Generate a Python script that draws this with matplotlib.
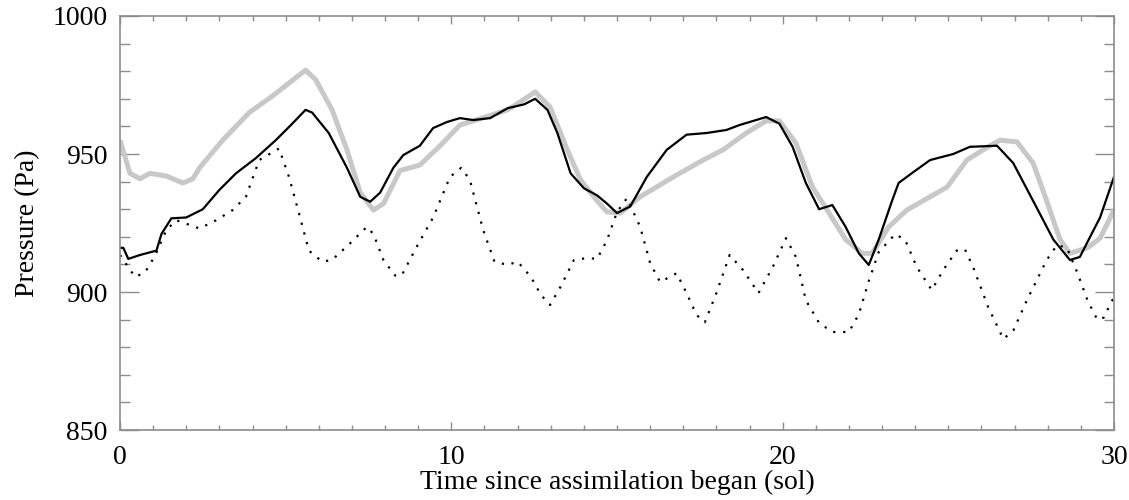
"""
Pression de surface au cours de l'assimilation : référence (gris),
run assimilé (noir) et run libre (pointillés).
"""
import matplotlib
matplotlib.use("Agg")
import matplotlib.pyplot as plt
from matplotlib.ticker import MultipleLocator

# Référence (courbe grise épaisse)
ref_t = [0, 0.3, 0.6, 0.9, 1.4, 1.9, 2.2, 2.4, 3.1, 3.9, 4.6, 5.1, 5.6, 5.9, 6.4,
         6.85, 7.25, 7.65, 7.95, 8.45, 9.05, 9.66, 10.26, 10.66, 11.7, 12.17, 12.53,
         12.98, 13.5, 13.9, 14.4, 14.7, 15.1, 15.7, 16.7, 17.6, 18.2, 18.9, 19.5, 19.9,
         20.4, 20.9, 21.4, 21.9, 22.4, 22.7, 23.2, 23.75, 24.45, 24.96, 25.56, 26.2,
         26.56, 27.07, 27.56, 27.97, 28.37, 28.67, 29.2, 29.58, 30]
ref_p = [955, 943, 941, 943, 942, 939.5, 941, 945, 955, 965, 971, 975.7, 980.4, 977, 966,
         951.5, 936, 929.7, 932, 944, 946, 953, 960.5, 962, 966, 969.6, 972.5,
         967, 951.5, 940.6, 933, 929, 928.6, 934.5, 941.7, 947.8, 951.5, 957.6, 962, 962,
         954, 938, 928.6, 919, 914, 914, 923.6, 929.7, 934.5, 938, 947.8, 952.6,
         955, 954.4, 946.7, 933, 919, 914, 916, 919.5, 929.7]

# Run avec assimilation (trait noir)
assim_t = [0, 0.1, 0.25, 0.6, 1.1, 1.25, 1.55, 2.0, 2.5, 3.0, 3.5, 4.1, 4.7, 5.2, 5.6,
           5.8, 6.3, 6.85, 7.25, 7.55, 7.85, 8.25, 8.55, 9.05, 9.45, 9.87, 10.26, 10.66,
           11.17, 11.7, 12.2, 12.53, 12.9, 13.2, 13.6, 14.0, 14.4, 14.7, 15.0, 15.4, 15.9,
           16.5, 17.1, 17.7, 18.3, 18.7, 19.5, 19.9, 20.3, 20.7, 21.1, 21.5, 21.9, 22.3,
           22.6, 22.9, 23.3, 23.5, 23.95, 24.45, 25.15, 25.65, 26.47, 26.96, 27.56, 28.17,
           28.67, 28.97, 29.28, 29.58, 30]
assim_p = [916, 916, 912, 913.4, 915, 921, 926.7, 927, 930, 937, 943, 948.5, 955, 961, 966,
           965, 957.6, 945, 934.5, 932.7, 936, 945, 949.6, 953, 959.4, 961.6, 963, 962.3,
           963, 966.6, 968, 970, 966, 957.6, 943, 937.6, 935, 932, 928.6, 931, 941.7,
           951.5, 957, 957.6, 958.7, 960.5, 963.4, 961, 952.6, 939.5, 930, 931.5, 923.6, 914,
           909.8, 919, 933, 939.5, 943.5, 947.8, 950, 952.6, 953, 946.7, 933, 919,
           911.6, 912.7, 920, 927, 941.7]

# Run libre (pointillés)
free_t = [0, 0.45, 0.75, 1.05, 1.4, 1.7, 2.1, 2.4, 2.9, 3.4, 3.8, 4.2, 4.8, 5.1, 5.4, 5.7,
          6.1, 6.4, 6.95, 7.45, 7.65, 7.95, 8.3, 8.5, 8.95, 9.45, 9.96, 10.3, 10.56, 10.96,
          11.3, 11.7, 12.0, 12.4, 12.7, 12.98, 13.3, 13.7, 14.1, 14.4, 14.7, 15.0, 15.3,
          15.7, 16.0, 16.3, 16.8, 17.1, 17.4, 17.65, 18.0, 18.4, 18.8, 19.27, 19.7, 20.1,
          20.4, 20.7, 21.1, 21.5, 22.0, 22.3, 22.6, 22.9, 23.4, 23.7, 24.05, 24.5, 24.85,
          25.25, 25.5, 25.75, 26.2, 26.66, 26.96, 27.37, 27.97, 28.28, 28.58, 28.9, 29.2,
          29.5, 29.7, 29.9, 30]
free_p = [913.4, 905.5, 907, 913, 922.5, 926, 924.3, 923, 926, 929.7, 934.5, 947.8, 952,
          941.7, 928.6, 915, 911, 911.6, 917.7, 923.6, 921, 911.6, 906, 906, 916.3, 927,
          941.7, 945, 940.6, 922.5, 911, 909.8, 911, 905.5, 899, 895.3, 902, 911.6, 912.3,
          912, 918.8, 929, 934, 923.6, 910.5, 903.6, 906.8, 899.6, 891.7, 889, 899.6, 913.4,
          908, 899.6, 909, 919.5, 912.7, 897, 888.8, 885.5, 885.5, 892, 904, 914.5, 921,
          918.8, 909, 900.7, 908, 915, 915.5, 909, 894.6, 883, 886, 897, 911.6, 917, 916,
          906.8, 897, 889.9, 890.8, 896, 898]

plt.rcParams["font.family"] = ["Liberation Serif", "DejaVu Serif"]
plt.rcParams["font.size"] = 20

fig = plt.figure(figsize=(11.29, 5.0), dpi=100)
ax = fig.add_axes([0.1063, 0.14, 0.8804, 0.828])

ax.plot(ref_t, ref_p, color="#c8c8c8", lw=3.6, solid_capstyle="butt")
ax.plot(assim_t, assim_p, color="black", lw=1.6)
ax.plot(free_t, free_p, color="black", lw=1.6, linestyle=(0, (1, 3.5)),
        dash_capstyle="butt")

ax.set_xlim(0, 30)
ax.set_ylim(850, 1000)
ax.xaxis.set_major_locator(MultipleLocator(10))
ax.xaxis.set_minor_locator(MultipleLocator(1))
ax.yaxis.set_major_locator(MultipleLocator(50))
ax.yaxis.set_minor_locator(MultipleLocator(10))

axis_grey = "#8c8c8c"
for s in ax.spines.values():
    s.set_color(axis_grey)
    s.set_linewidth(1.2)

# Ticks style IDL : vers l'intérieur, sur les 4 côtés
ax.tick_params(axis="both", which="both", direction="in", top=True, right=True,
               color=axis_grey, width=1.0, labelcolor="black")
ax.tick_params(axis="x", which="major", length=6, pad=11)
ax.tick_params(axis="x", which="minor", length=3.5)
ax.tick_params(axis="y", which="major", length=14, pad=9)
ax.tick_params(axis="y", which="minor", length=7)

ax.set_xlabel("Time since assimilation began (sol)", labelpad=0)
ax.set_ylabel("Pressure (Pa)", labelpad=9)

fig.savefig("out.png", dpi=100)
